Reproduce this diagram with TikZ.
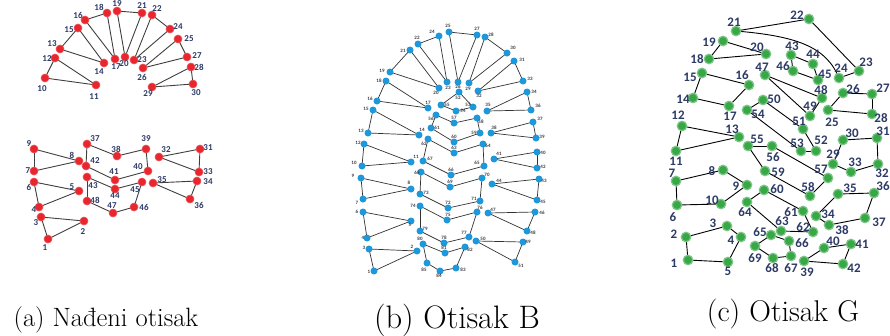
\documentclass[tikz,border=0pt]{standalone}
\usepackage{fontspec}
\newfontfamily\labfont{Carlito}[BoldFont={Carlito Bold}]
\usetikzlibrary{backgrounds}
\definecolor{redc}{HTML}{E8262D}
\definecolor{bluec}{HTML}{1E98D8}
\definecolor{greenc}{HTML}{38A846}
\definecolor{navy}{HTML}{2C3A66}
\definecolor{bnav}{HTML}{3A3A48}
\tikzset{
  rdot/.style={circle,fill=redc,draw=redc!80!white,line width=0.6pt,inner sep=0pt,minimum size=8pt},
  bdot/.style={circle,fill=bluec,inner sep=0pt,minimum size=7pt},
  gdot/.style={circle,fill=greenc,draw=greenc!65!white,line width=1.2pt,inner sep=0pt,minimum size=9.5pt},
  rlab/.style={inner sep=0pt,text=navy,font=\labfont\bfseries\fontsize{9}{9}\selectfont},
  blab/.style={inner sep=0pt,text=bnav,font=\labfont\bfseries\fontsize{5}{5}\selectfont},
  glab/.style={inner sep=0pt,text=navy,font=\labfont\bfseries\fontsize{13}{13}\selectfont},
  aedge/.style={draw=black!75,line width=0.9pt},
  bedge/.style={draw=black!80,line width=0.7pt},
  gedge/.style={draw=black,line width=0.9pt},
  captext/.style={inner sep=0pt,anchor=base}
}
\newcommand\An[5]{\node[rdot] (a#1) at (#2,#3) {}; \node[rlab] (a#1t) at (#4,#5) {#1};}
\newcommand\Bn[5]{\node[bdot] (b#1) at (#2,#3) {}; \node[blab] (b#1t) at (#4,#5) {#1};}
\newcommand\Gn[5]{\node[gdot] (g#1) at (#2,#3) {}; \node[glab] (g#1t) at (#4,#5) {#1};}
\begin{document}
\begin{tikzpicture}[x=1pt,y=-1pt]
\useasboundingbox (0,0) rectangle (890,335);
% ---------------- panel a ----------------
\An{10}{45}{78}{42}{89}
\An{11}{96}{85}{94}{97}
\An{12}{55}{58}{47}{59}
\An{13}{60}{49}{52}{44}
\An{14}{104}{63}{99}{72}
\An{15}{78}{28}{69}{30}
\An{16}{85}{20}{78}{15}
\An{17}{115}{59}{116}{67}
\An{18}{107}{13}{99}{7}
\An{19}{117}{11}{117}{4}
\An{20}{125}{57}{124}{64}
\An{21}{142}{13}{142}{6}
\An{22}{152}{15}{157}{9}
\An{23}{134}{60}{142}{60}
\An{24}{170}{29}{178}{27}
\An{25}{178}{39}{189}{39}
\An{26}{143}{68}{142}{77}
\An{27}{187}{57}{197}{56}
\An{28}{191}{67}{199}{67}
\An{29}{152}{87}{148}{94}
\An{30}{193}{84}{196}{93}
\An{9}{34}{149}{29}{144}
\An{8}{79}{161}{72}{155}
\An{7}{34}{171}{28}{171}
\An{6}{34}{182}{29}{187}
\An{5}{79}{191}{72}{187}
\An{4}{39}{207}{34}{210}
\An{3}{41}{217}{36}{223}
\An{2}{84}{221}{83}{232}
\An{1}{48}{239}{45}{248}
\An{37}{87}{144}{95}{139}
\An{38}{117}{156}{116}{149}
\An{39}{146}{149}{146}{139}
\An{42}{86}{166}{95}{161}
\An{41}{115}{180}{114}{172}
\An{40}{148}{171}{138}{167}
\An{43}{87}{177}{93}{186}
\An{44}{115}{189}{115}{196}
\An{45}{142}{182}{135}{190}
\An{48}{87}{201}{95}{200}
\An{47}{113}{213}{112}{206}
\An{46}{134}{207}{144}{207}
\An{32}{159}{157}{166}{150}
\An{31}{200}{149}{208}{148}
\An{33}{199}{172}{208}{172}
\An{35}{153}{183}{162}{180}
\An{34}{197}{181}{208}{182}
\An{36}{190}{199}{199}{205}
% ---------------- panel b ----------------
\Bn{25}{449}{32}{448}{26}
\Bn{27}{477}{35}{477}{29}
\Bn{24}{439}{36}{432}{32}
\Bn{28}{485}{37}{491}{35}
\Bn{22}{418}{44}{417}{38}
\Bn{30}{507}{53}{513}{48}
\Bn{21}{410}{50}{403}{51}
\Bn{31}{514}{61}{522}{60}
\Bn{19}{390}{72}{382}{71}
\Bn{33}{523}{81}{530}{79}
\Bn{18}{386}{81}{379}{81}
\Bn{20}{439}{88}{436}{93}
\Bn{23}{447}{82}{448}{88}
\Bn{26}{458}{82}{458}{87}
\Bn{29}{469}{83}{468}{89}
\Bn{32}{478}{91}{479}{96}
\Bn{16}{377}{101}{370}{99}
\Bn{17}{428}{108}{428}{103}
\Bn{34}{527}{92}{534}{92}
\Bn{36}{531}{110}{538}{106}
\Bn{52}{459}{92}{458}{98}
\Bn{55}{441}{105}{447}{105}
\Bn{54}{456}{111}{463}{111}
\Bn{53}{473}{107}{468}{105}
\Bn{35}{487}{111}{488}{105}
\Bn{15}{373}{110}{366}{109}
\Bn{56}{436}{115}{431}{119}
\Bn{57}{454}{123}{454}{118}
\Bn{58}{477}{118}{481}{122}
\Bn{37}{533}{122}{540}{119}
\Bn{13}{368}{133}{361}{131}
\Bn{14}{419}{135}{422}{130}
\Bn{61}{431}{128}{437}{128}
\Bn{60}{454}{142}{454}{137}
\Bn{59}{480}{133}{474}{133}
\Bn{38}{491}{133}{494}{128}
\Bn{39}{536}{138}{542}{137}
\Bn{12}{364}{144}{358}{143}
\Bn{62}{428}{139}{424}{144}
\Bn{63}{454}{153}{454}{148}
\Bn{64}{483}{144}{488}{146}
\Bn{40}{537}{152}{543}{153}
\Bn{41}{494}{159}{499}{154}
\Bn{42}{537}{168}{543}{167}
\Bn{10}{362}{166}{354}{163}
\Bn{11}{411}{162}{416}{157}
\Bn{67}{423}{161}{430}{159}
\Bn{65}{484}{166}{477}{163}
\Bn{66}{451}{175}{451}{170}
\Bn{9}{361}{178}{353}{176}
\Bn{68}{421}{172}{417}{173}
\Bn{70}{482}{178}{487}{175}
\Bn{69}{450}{187}{450}{182}
\Bn{44}{492}{184}{499}{181}
\Bn{43}{539}{179}{544}{181}
\Bn{8}{411}{189}{409}{183}
\Bn{7}{363}{199}{357}{203}
\Bn{73}{420}{194}{426}{193}
\Bn{72}{448}{208}{448}{203}
\Bn{71}{480}{201}{474}{199}
\Bn{45}{537}{200}{543}{202}
\Bn{74}{420}{206}{413}{206}
\Bn{76}{477}{212}{480}{208}
\Bn{75}{447}{220}{448}{215}
\Bn{47}{488}{213}{493}{210}
\Bn{46}{535}{212}{542}{213}
\Bn{6}{363}{212}{357}{212}
\Bn{5}{411}{221}{410}{225}
\Bn{4}{367}{238}{363}{238}
\Bn{79}{420}{231}{425}{229}
\Bn{78}{444}{243}{444}{238}
\Bn{77}{469}{237}{464}{233}
\Bn{48}{527}{231}{533}{233}
\Bn{50}{476}{241}{483}{239}
\Bn{49}{523}{242}{528}{242}
\Bn{80}{423}{244}{420}{239}
\Bn{81}{445}{253}{444}{248}
\Bn{82}{465}{247}{470}{250}
\Bn{3}{369}{249}{364}{248}
\Bn{2}{417}{251}{412}{247}
\Bn{85}{427}{263}{424}{270}
\Bn{84}{440}{271}{439}{276}
\Bn{83}{456}{268}{463}{270}
\Bn{51}{515}{262}{521}{266}
\Bn{1}{374}{271}{369}{272}
% ---------------- panel c ----------------
\Gn{22}{809}{19}{797}{15}
\Gn{21}{736}{31}{734}{22}
\Gn{19}{723}{41}{709}{42}
\Gn{20}{766}{54}{757}{47}
\Gn{18}{709}{59}{697}{59}
\Gn{43}{791}{55}{792}{46}
\Gn{44}{813}{64}{813}{54}
\Gn{46}{793}{71}{783}{66}
\Gn{45}{818}{80}{825}{74}
\Gn{24}{839}{78}{841}{68}
\Gn{23}{859}{71}{866}{62}
\Gn{47}{765}{75}{762}{67}
\Gn{15}{702}{73}{690}{77}
\Gn{16}{749}{85}{742}{75}
\Gn{48}{822}{98}{821}{90}
\Gn{26}{843}{93}{853}{89}
\Gn{27}{872}{94}{883}{88}
\Gn{14}{693}{98}{683}{99}
\Gn{50}{763}{100}{774}{99}
\Gn{17}{729}{106}{730}{116}
\Gn{54}{747}{110}{758}{114}
\Gn{49}{810}{116}{810}{106}
\Gn{25}{828}{110}{832}{122}
\Gn{28}{872}{114}{881}{118}
\Gn{51}{803}{129}{799}{121}
\Gn{12}{682}{126}{678}{115}
\Gn{13}{739}{137}{732}{129}
\Gn{55}{748}{146}{757}{139}
\Gn{56}{772}{146}{773}{157}
\Gn{53}{801}{151}{797}{143}
\Gn{52}{816}{151}{821}{140}
\Gn{30}{843}{140}{852}{133}
\Gn{31}{877}{138}{883}{131}
\Gn{11}{676}{151}{676}{161}
\Gn{29}{833}{164}{833}{154}
\Gn{33}{851}{172}{855}{162}
\Gn{32}{878}{164}{882}{173}
\Gn{57}{828}{178}{821}{169}
\Gn{59}{765}{171}{778}{172}
\Gn{8}{723}{170}{712}{171}
\Gn{7}{676}{181}{672}{173}
\Gn{9}{747}{185}{736}{186}
\Gn{58}{810}{196}{808}{187}
\Gn{35}{838}{194}{850}{188}
\Gn{36}{874}{193}{883}{186}
\Gn{60}{764}{190}{777}{189}
\Gn{6}{677}{205}{673}{217}
\Gn{10}{721}{204}{712}{200}
\Gn{64}{747}{202}{745}{212}
\Gn{61}{803}{211}{791}{212}
\Gn{34}{816}{216}{828}{214}
\Gn{37}{865}{218}{879}{222}
\Gn{38}{829}{225}{842}{230}
\Gn{63}{781}{231}{782}{221}
\Gn{62}{813}{232}{803}{227}
\Gn{3}{727}{226}{713}{223}
\Gn{4}{741}{237}{731}{240}
\Gn{2}{686}{237}{674}{234}
\Gn{65}{771}{235}{760}{232}
\Gn{66}{789}{241}{802}{243}
\Gn{40}{824}{248}{833}{241}
\Gn{41}{851}{244}{862}{244}
\Gn{69}{755}{246}{755}{258}
\Gn{68}{773}{258}{772}{268}
\Gn{67}{791}{256}{791}{268}
\Gn{1}{688}{260}{674}{263}
\Gn{5}{728}{262}{728}{271}
\Gn{39}{804}{261}{807}{272}
\Gn{42}{843}{264}{854}{268}
% ---------------- captions ----------------
\node[captext,font=\fontsize{26.5}{30}\selectfont] (capa) at (106,326) {(a) Nađeni otisak};
\node[captext,font=\fontsize{32.5}{36}\selectfont] (capb) at (457,328) {(b) Otisak B};
\node[captext,font=\fontsize{30}{34}\selectfont] (capc) at (783,321) {(c) Otisak G};
% ---------------- edges ----------------
\begin{scope}[on background layer]
\fill[white] (0,0) rectangle (890,335);
\foreach \u/\v in {10/12,10/11,12/11, 13/15,13/14,15/14, 16/18,16/17,18/17,
  19/21,19/20,21/20, 22/24,22/23,24/23, 25/27,25/26,27/26, 28/30,28/29,29/30,
  9/7,9/8,7/8, 6/5,6/4,4/5, 3/2,3/1,1/2,
  37/38,38/39,37/42,39/40,42/41,41/40, 43/44,44/45,43/48,45/46,48/47,47/46,
  32/31,31/33,32/33, 35/34,34/36,35/36}
  \draw[aedge] (a\u.center) -- (a\v.center);
\foreach \u/\v in {19/21,21/20,19/20, 22/24,24/23,22/23, 25/27,27/26,25/26,
  28/30,30/29,28/29, 31/33,33/32,31/32, 18/16,16/17,18/17, 34/36,36/35,34/35,
  52/55,55/54,54/53,53/52, 15/13,13/14,15/14,
  56/57,57/58,58/59,59/60,60/61,61/56, 37/39,39/38,38/37, 12/10,10/11,12/11,
  62/63,63/64,64/65,65/66,66/67,67/62, 40/42,42/41,41/40, 9/7,7/8,9/8,
  68/69,69/70,70/71,71/72,72/73,73/68, 43/45,45/44,44/43, 6/4,4/5,6/5,
  74/75,75/76,76/77,77/78,78/79,79/74, 47/46,46/48,48/47, 3/1,1/2,3/2,
  80/81,81/82,82/83,83/84,84/85,85/80, 50/49,49/51,51/50}
  \draw[bedge] (b\u.center) -- (b\v.center);
\foreach \u/\v in {21/22,22/23,23/24, 19/18,18/20,19/20, 43/44,44/45,45/46,46/43,
  15/16,16/17,17/14,14/15, 47/48,48/49,49/47, 26/27,27/28,28/25,25/26,
  50/51,51/52,52/53,53/54,54/50, 12/13,13/11,11/12,
  55/56,56/57,57/58,58/59,59/55, 30/31,31/32,32/33,33/29,29/30,
  7/8,8/9,9/10,10/6,6/7, 60/61,61/62,62/63,63/64,64/60,
  35/36,36/37,37/38,38/34,34/35, 2/3,3/4,4/5,5/1,1/2,
  65/66,66/67,67/68,68/69,69/65, 40/41,41/42,42/39,39/40}
  \draw[gedge] (g\u.center) -- (g\v.center);
\draw[gedge] (g21.center) .. controls (795,36) and (826,46) .. (g24.center);
\end{scope}
\end{tikzpicture}
\end{document}
